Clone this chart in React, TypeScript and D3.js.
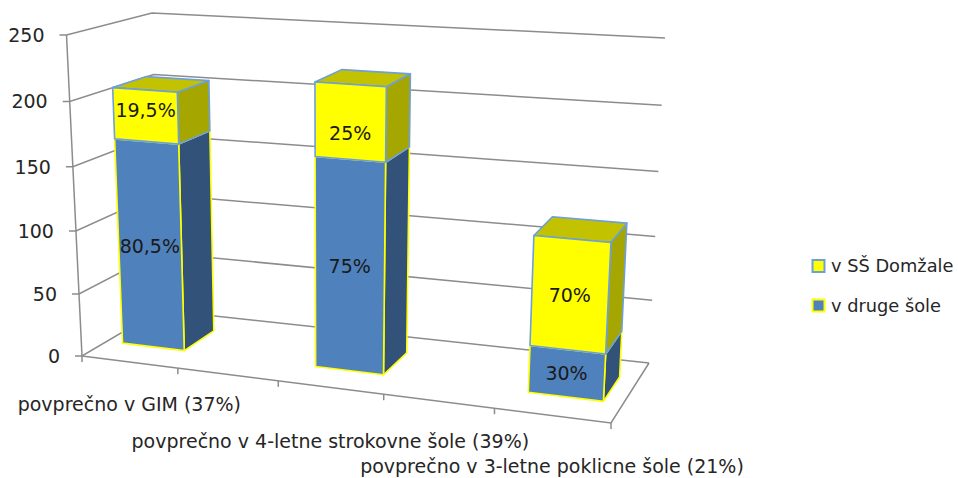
import * as React from "react";
import * as d3 from "d3";

const categories = [
  "povprečno v GIM (37%)",
  "",
  "povprečno v 4-letne strokovne šole (39%)",
  "",
  "povprečno v 3-letne poklicne šole (21%)",
];
const drugeSole = [165, 0, 164, 0, 36];
const ssDomzale = [40, 0, 56, 0, 83];
const drugeLabels = ["80,5%", "", "75%", "", "30%"];
const domzaleLabels = ["19,5%", "", "25%", "", "70%"];
const valueTicks = [0, 50, 100, 150, 200, 250];
const seriesKeys = ["druge", "domzale"];
const legendItems = ["v SŠ Domžale", "v druge šole"];

const FONT = "'DejaVu Sans', sans-serif";
const TEXT = "#262626";
const GRID = "#8c8c8c";

// corners of the 3d box, as measured on the picture
const FLB = [82, 356];
const FRB = [611, 423];
const BLB = [160, 310];
const BRB = [649, 363];
const FLT = [66.5, 35];
const FRT = [629, 72];
const BLT = [152, 13];
const BRT = [665, 38];

const perspective = (t: number, r: number) => t / (t + (1 - t) * r);
const lerp = (a: number[], b: number[], t: number) => [
  a[0] + (b[0] - a[0]) * t,
  a[1] + (b[1] - a[1]) * t,
];

const uScale = d3
  .scaleBand<number>()
  .domain(d3.range(categories.length))
  .range([0, 1])
  .paddingInner(0.34)
  .paddingOuter(0.17);
const wScale = d3.scaleLinear().domain([0, 250]).range([0, 1]);

// u along the categories, v into the depth, value up the axis
function project(u: number, v: number, value: number) {
  const t = perspective(u, 1.13);
  const w = perspective(wScale(value), 1.045);
  const bottom = lerp(lerp(FLB, FRB, t), lerp(BLB, BRB, t), v);
  const top = lerp(lerp(FLT, FRT, t), lerp(BLT, BRT, t), v);
  return lerp(bottom, top, w);
}

const poly = d3
  .line<number[]>()
  .x((d) => d[0])
  .y((d) => d[1])
  .curve(d3.curveLinearClosed);
const open = d3
  .line<number[]>()
  .x((d) => d[0])
  .y((d) => d[1]);

const V0 = 0.32;
const V1 = 0.73;

const stackRows = categories.map((_, i) => ({
  index: i,
  druge: drugeSole[i],
  domzale: ssDomzale[i],
}));
const stacked = d3.stack<any>().keys(seriesKeys)(stackRows);

const segStyles: any = {
  druge: { front: "#4f81bd", side: "#325279", top: "#3f6797", stroke: "#ffff00", label: drugeLabels, nudge: [0, 0, 0, 0, 0] },
  domzale: { front: "#ffff00", side: "#a6a600", top: "#c2c200", stroke: "#6c9fdc", label: domzaleLabels, nudge: [-6, 0, 11, 0, 0] },
};

function Segment({ i, y0, y1, keyName, showTop }: any) {
  const s = segStyles[keyName];
  const a = uScale(i)!;
  const b = a + uScale.bandwidth();
  const front = [project(a, V0, y0), project(b, V0, y0), project(b, V0, y1), project(a, V0, y1)];
  const side = [project(b, V0, y0), project(b, V1, y0), project(b, V1, y1), project(b, V0, y1)];
  const top = [project(a, V0, y1), project(b, V0, y1), project(b, V1, y1), project(a, V1, y1)];
  return (
    <g strokeWidth={1.6} stroke={s.stroke} strokeLinejoin="round">
      <path d={poly(side)!} fill={s.side} />
      {showTop && <path d={poly(top)!} fill={s.top} />}
      <path d={poly(front)!} fill={s.front} />
    </g>
  );
}

function SegmentLabel({ i, y0, y1, keyName }: any) {
  const s = segStyles[keyName];
  const a = uScale(i)!;
  const p = project(a + uScale.bandwidth() / 2, V0, (y0 + y1) / 2);
  return (
    <text x={p[0]} y={p[1] + s.nudge[i]} dy="0.36em" textAnchor="middle" fontSize={19} fill="#1a1a1a" fontFamily={FONT}>
      {s.label[i]}
    </text>
  );
}

const axisLabelBaselines = [411, 0, 448, 0, 473];

export default function App() {
  const n = categories.length;
  const edges = d3.range(n + 1).map((i) => i / n);
  return (
    <svg
      width={958}
      height={478}
      style={{ position: "absolute", left: 0, top: 0, background: "#fff" }}
    >
      {/* walls */}
      {valueTicks.map((t) => {
        const fl = project(0, 0, t);
        const bl = project(0, 1, t);
        const br = project(1, 1, t);
        return (
          <g key={t}>
            <path d={open([[fl[0] - 7, fl[1]], fl, bl, br])!} fill="none" stroke={GRID} strokeWidth={1.5} />
            <text x={fl[0] - 22} y={fl[1]} dy="0.36em" textAnchor="end" fontSize={19} fill={TEXT} fontFamily={FONT}>
              {t}
            </text>
          </g>
        );
      })}
      {/* axes */}
      <path d={open([project(0, 0, 0), project(0, 0, 250)])!} fill="none" stroke={GRID} strokeWidth={1.5} />
      <path
        d={open([project(0, 0, 0), project(1, 0, 0), project(1, 1, 0)])!}
        fill="none"
        stroke={GRID}
        strokeWidth={1.5}
      />
      {edges.map((e) => {
        const p = project(e, 0, 0);
        return <path key={e} d={open([p, [p[0], p[1] + 6]])!} stroke={GRID} strokeWidth={1.5} fill="none" />;
      })}

      {/* bars */}
      {categories.map((c, i) =>
        c ? (
          <g key={i}>
            {stacked.map((series, k) => (
              <Segment
                key={series.key}
                i={i}
                keyName={series.key}
                y0={series[i][0]}
                y1={series[i][1]}
                showTop={k === stacked.length - 1}
              />
            ))}
          </g>
        ) : null
      )}
      {categories.map((c, i) =>
        c
          ? stacked.map((series) => (
              <SegmentLabel key={series.key + i} i={i} keyName={series.key} y0={series[i][0]} y1={series[i][1]} />
            ))
          : null
      )}

      {/* category labels */}
      {categories.map((c, i) => {
        if (!c) return null;
        const p = project(uScale(i)! + uScale.bandwidth() / 2, 0, 0);
        return (
          <text key={i} x={p[0]} y={axisLabelBaselines[i]} textAnchor="middle" fontSize={19} fill={TEXT} fontFamily={FONT}>
            {c}
          </text>
        );
      })}

      {/* legend */}
      {legendItems.map((item, i) => {
        const y = 260 + i * 39.5;
        const s = i === 0 ? segStyles.domzale : segStyles.druge;
        return (
          <g key={item}>
            <rect x={812.5} y={y} width={12} height={12} fill={s.front} stroke={s.stroke} strokeWidth={2} />
            <text x={831} y={y + 12} fontSize={17.8} fill={TEXT} fontFamily={FONT}>
              {item}
            </text>
          </g>
        );
      })}
    </svg>
  );
}
